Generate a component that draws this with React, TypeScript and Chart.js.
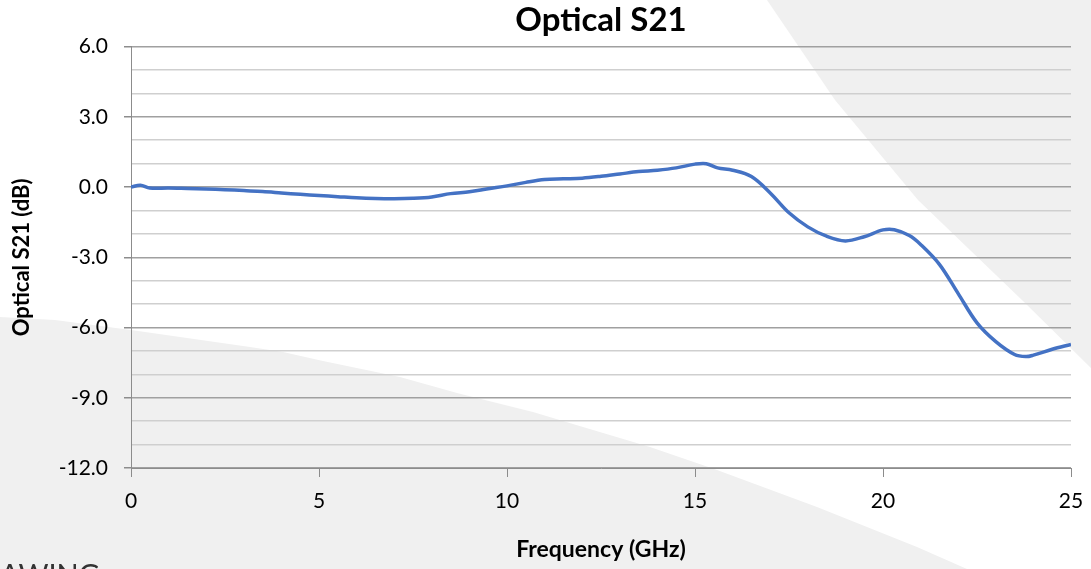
import React, { useEffect, useRef } from "react";
import { Chart, registerables } from "chart.js";

Chart.register(...registerables);

const TITLE = "Optical S21";
const X_TITLE = "Frequency (GHz)";
const Y_TITLE = "Optical S21 (dB)";
const WATERMARK = "AWING";

const freqGHz = [
  0, 0.25, 0.5, 1, 1.5, 2, 2.5, 3, 3.5, 4, 4.5, 5, 5.5, 6, 6.5, 7, 7.5, 8, 8.5, 9, 9.5,
  10, 10.5, 11, 11.5, 12, 12.5, 13, 13.5, 14, 14.5, 15, 15.3, 15.6, 16, 16.5, 17, 17.5,
  18, 18.5, 19, 19.5, 20, 20.3, 20.7, 21, 21.5, 22, 22.5, 23, 23.5, 23.8, 24, 24.5, 25,
];
const s21dB = [
  0.0, 0.08, -0.04, -0.04, -0.06, -0.08, -0.11, -0.15, -0.19, -0.25, -0.31, -0.36, -0.41,
  -0.46, -0.49, -0.5, -0.48, -0.42, -0.28, -0.2, -0.07, 0.05, 0.2, 0.32, 0.35, 0.38, 0.46,
  0.56, 0.66, 0.72, 0.82, 0.98, 1.0, 0.82, 0.72, 0.45, -0.25, -1.1, -1.7, -2.1, -2.3,
  -2.12, -1.83, -1.82, -2.07, -2.45, -3.3, -4.55, -5.8, -6.6, -7.15, -7.24, -7.18, -6.93,
  -6.72,
];

const xTicks = [0, 5, 10, 15, 20, 25];
const yMin = -12;
const yMax = 6;

const FONT = "Lato, 'Open Sans', sans-serif";

const bgPlugin = {
  id: "bgShapes",
  beforeDraw(chart: any) {
    const ctx = chart.ctx;
    const w = chart.width;
    const h = chart.height;
    ctx.save();
    ctx.fillStyle = "#ffffff";
    ctx.fillRect(0, 0, w, h);
    ctx.fillStyle = "#f0f0f0";
    // top-right shape
    ctx.beginPath();
    ctx.moveTo(767, 0);
    ctx.lineTo(835, 100);
    ctx.lineTo(918, 200);
    ctx.lineTo(970, 250);
    ctx.lineTo(1022, 300);
    ctx.lineTo(w, 368);
    ctx.lineTo(w, 0);
    ctx.closePath();
    ctx.fill();
    // bottom-left shape
    ctx.beginPath();
    ctx.moveTo(0, 317);
    ctx.lineTo(55, 320);
    ctx.lineTo(131, 330);
    ctx.lineTo(250, 347);
    ctx.lineTo(283, 352);
    ctx.lineTo(323, 361);
    ctx.lineTo(400, 377);
    ctx.lineTo(457, 393);
    ctx.lineTo(533, 412);
    ctx.lineTo(583, 427);
    ctx.lineTo(650, 447);
    ctx.lineTo(717, 470);
    ctx.lineTo(817, 507);
    ctx.lineTo(917, 547);
    ctx.lineTo(967, h);
    ctx.lineTo(0, h);
    ctx.closePath();
    ctx.fill();
    ctx.fillStyle = "#333333";
    ctx.font = `29px ${FONT}`;
    ctx.textBaseline = "alphabetic";
    ctx.fillText(WATERMARK, 0, 585);
    ctx.restore();
  },
};

export default function App() {
  const ref = useRef<HTMLCanvasElement | null>(null);
  useEffect(() => {
    document.body.style.margin = "0";
    if (!ref.current) return;
    const chart = new Chart(ref.current, {
      type: "line",
      data: {
        datasets: [
          {
            data: freqGHz.map((f, i) => ({ x: f, y: s21dB[i] })),
            borderColor: "#4472c4",
            borderWidth: 3.5,
            pointRadius: 0,
            tension: 0.35,
            fill: false,
          },
        ],
      },
      options: {
        animation: false,
        responsive: false,
        layout: { padding: { left: 0, right: 20, top: 0, bottom: 0 } },
        plugins: {
          legend: { display: false },
          tooltip: { enabled: false },
          title: {
            display: true,
            fullSize: false,
            text: TITLE,
            color: "#000000",
            font: { family: FONT, size: 33, weight: "bold" },
            padding: { top: 1, bottom: 6 },
          },
        },
        scales: {
          x: {
            type: "linear",
            min: 0,
            max: 25,
            afterFit: (s: any) => {
              s.height = 101;
              s.paddingRight = 0;
              s.paddingLeft = 0;
            },
            afterBuildTicks: (s: any) => {
              s.ticks = xTicks.map((v) => ({ value: v }));
            },
            ticks: {
              color: "#000000",
              font: { family: FONT, size: 21 },
              padding: 12,
              maxRotation: 0,
              autoSkip: false,
            },
            grid: {
              drawOnChartArea: false,
              drawTicks: true,
              tickLength: 9,
              color: "#8c8c8c",
            },
            border: { color: "#8c8c8c", width: 1 },
            title: {
              display: true,
              text: X_TITLE,
              color: "#000000",
              font: { family: FONT, size: 23, weight: "bold" },
              padding: { top: 0, bottom: 6 },
            },
          },
          y: {
            type: "linear",
            min: yMin,
            max: yMax,
            afterFit: (s: any) => {
              s.width = 131;
            },
            ticks: {
              stepSize: 1,
              autoSkip: false,
              color: "#000000",
              font: { family: FONT, size: 21 },
              padding: 16,
              callback: (v: any) => (Number(v) % 3 === 0 ? Number(v).toFixed(1) : ""),
            },
            grid: {
              drawTicks: true,
              tickLength: 7,
              color: (c: any) =>
                c.tick && Math.round(c.tick.value) % 3 === 0 ? "#a0a0a0" : "#cfcfcf",
              tickColor: (c: any) =>
                c.tick && Math.round(c.tick.value) % 3 === 0 ? "#8c8c8c" : "rgba(0,0,0,0)",
              lineWidth: 1.5,
            },
            border: { color: "#8c8c8c", width: 1 },
            title: {
              display: true,
              text: Y_TITLE,
              color: "#000000",
              font: { family: FONT, size: 22, weight: "bold" },
              padding: { top: 9, bottom: 0 },
            },
          },
        },
      },
      plugins: [bgPlugin],
    });
    return () => chart.destroy();
  }, []);
  return (
    <div style={{ position: "absolute", left: 0, top: 0, width: 1091, height: 569 }}>
      <canvas ref={ref} width={1091} height={569} style={{ width: 1091, height: 569 }} />
    </div>
  );
}
